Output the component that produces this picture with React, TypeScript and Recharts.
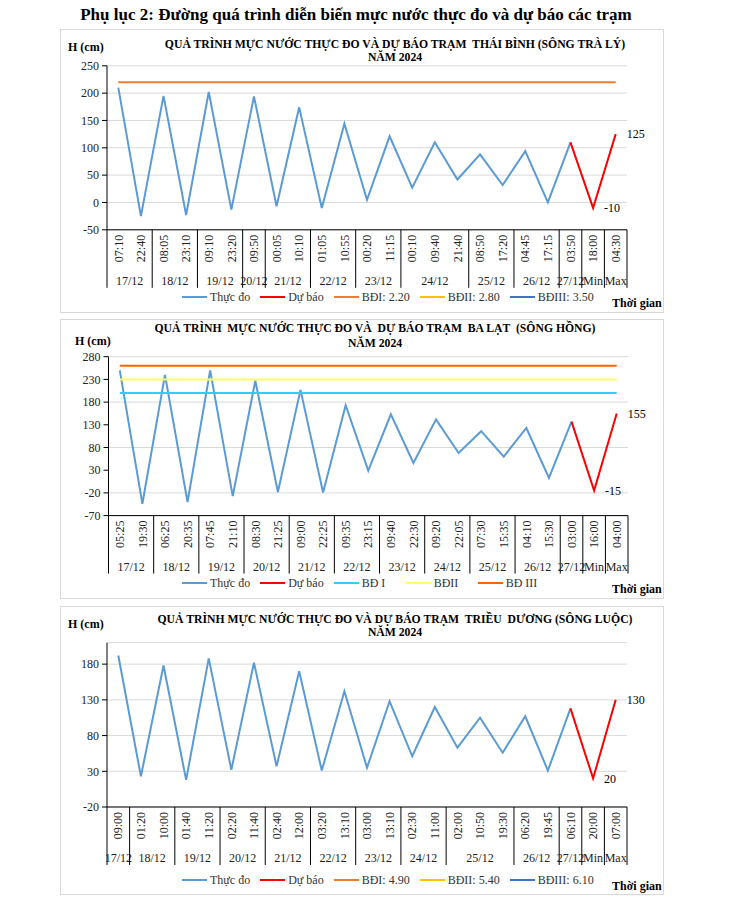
import React from 'react';
import { CartesianGrid, LabelList, Line, LineChart, XAxis, YAxis } from 'recharts';

const FONT = '"Liberation Serif", "Times New Roman", serif';

// Trạm Thái Bình (sông Trà Lý)
const tbTimes = ['07:10', '22:40', '08:05', '23:10', '09:10', '23:20', '09:50', '00:05', '10:10', '01:05', '10:55', '00:20', '11:15', '00:10', '09:40', '21:40', '08:50', '17:20', '04:45', '17:15', '03:50', '18:00', '04:30'];
const tbDates = ['17/12', '18/12', '19/12', '20/12', '21/12', '22/12', '23/12', '24/12', '25/12', '26/12', '27/12', 'Min', 'Max'];
const tbSpans = [2, 2, 2, 1, 2, 2, 2, 3, 2, 2, 1, 1, 1];
const tbMeasured = [210, -25, 195, -23, 202, -13, 194, -7, 174, -10, 144, 5, 121, 27, 110, 42, 88, 32, 94, 0, 110];
const tbForecast = [110, -10, 125];
const tbAlertLabels = ['BĐI: 2.20', 'BĐII: 2.80', 'BĐIII: 3.50'];
const tbAlertLevels = [220, 280, 350];

// Trạm Ba Lạt (sông Hồng)
const blTimes = ['05:25', '19:30', '06:25', '20:35', '07:45', '21:10', '08:30', '21:25', '09:00', '22:25', '09:35', '23:15', '09:40', '22:30', '09:20', '22:05', '07:30', '15:35', '04:10', '15:30', '03:00', '16:00', '04:00'];
const blDates = ['17/12', '18/12', '19/12', '20/12', '21/12', '22/12', '23/12', '24/12', '25/12', '26/12', '27/12', 'Min', 'Max'];
const blSpans = [2, 2, 2, 2, 2, 2, 2, 2, 2, 2, 1, 1, 1];
const blMeasured = [250, -44, 240, -40, 250, -27, 227, -18, 207, -19, 173, 29, 153, 46, 142, 68, 116, 60, 123, 13, 137];
const blForecast = [137, -15, 155];
const blAlertLabels = ['BĐ I', 'BĐII', 'BĐ III'];
const blAlertLevels = [200, 230, 260];

// Trạm Triều Dương (sông Luộc)
const tdTimes = ['09:00', '01:20', '10:00', '01:40', '11:20', '02:20', '11:40', '02:40', '12:00', '03:20', '13:10', '03:00', '13:10', '02:30', '11:00', '02:00', '10:50', '19:30', '06:20', '19:45', '06:10', '20:00', '07:00'];
const tdDates = ['17/12', '18/12', '19/12', '20/12', '21/12', '22/12', '23/12', '24/12', '25/12', '26/12', '27/12', 'Min', 'Max'];
const tdSpans = [1, 2, 2, 2, 2, 2, 2, 2, 3, 2, 1, 1, 1];
const tdMeasured = [192, 23, 178, 18, 188, 32, 182, 37, 170, 31, 142, 35, 128, 51, 120, 63, 105, 56, 107, 31, 118];
const tdForecast = [118, 20, 130];
const tdAlertLabels = ['BĐI: 4.90', 'BĐII: 5.40', 'BĐIII: 6.10'];
const tdAlertLevels = [490, 540, 610];

const MEASURED_COLOR = '#5b9bd5';
const FORECAST_COLOR = '#ff0000';

type Station = {
  frameTop: number;
  frameBottom: number;
  plot: { left: number; right: number; top: number; bottom: number };
  domain: [number, number];
  ticks: number[];
  title: string[];
  titleX: number;
  titleY: number[];
  hcm: { x: number; y: number };
  times: string[];
  dates: string[];
  spans: number[];
  measured: number[];
  forecast: number[];
  alertLabels: string[];
  alertLevels: number[];
  alertColors: string[];
  legendX: number;
  legendY: number;
  legendItemW: number;
};

const buildRows = (s: Station) =>
  s.times.map((time, i) => {
    const fi = i - (s.measured.length - 1);
    const row: any = {
      time,
      measured: i < s.measured.length ? s.measured[i] : null,
      forecast: fi >= 0 ? s.forecast[fi] : null,
      label: fi > 0 ? s.forecast[fi] : null,
    };
    s.alertLevels.forEach((lv, k) => {
      row['bd' + k] = lv;
    });
    return row;
  });

const StationChart = ({ s }: { s: Station }) => {
  const H = s.frameBottom - s.frameTop;
  const n = s.times.length;
  const bw = (s.plot.right - s.plot.left) / n;
  const axisY = s.plot.bottom - s.frameTop;
  const yw = 50;
  const rows = buildRows(s);

  const groupStart: Record<number, { g: number; n: number }> = {};
  let acc = 0;
  s.spans.forEach((c, g) => {
    groupStart[acc] = { g, n: c };
    acc += c;
  });

  const renderTick = (p: any) => {
    const { x, payload } = p;
    const i = payload.index;
    const st = groupStart[i];
    const ty = axisY + 5;
    return (
      <g key={'t' + i}>
        <text
          x={x}
          y={ty}
          dy="0.35em"
          textAnchor="end"
          transform={`rotate(-90 ${x} ${ty})`}
          fontSize={12}
          fontFamily={FONT}
          fill="#222"
        >
          {s.times[i]}
        </text>
        {st && (
          <line x1={x - bw / 2} x2={x - bw / 2} y1={axisY} y2={axisY + 58} stroke="#000" strokeWidth={1} />
        )}
        {st && (
          <text
            x={x - bw / 2 + (st.n * bw) / 2}
            y={axisY + 51}
            dy="0.35em"
            textAnchor="middle"
            fontSize={12}
            fontFamily={FONT}
            fill="#222"
          >
            {s.dates[st.g]}
          </text>
        )}
        {i === n - 1 && (
          <line x1={x + bw / 2} x2={x + bw / 2} y1={axisY} y2={axisY + 58} stroke="#000" strokeWidth={1} />
        )}
      </g>
    );
  };

  const legendItems = [
    { label: 'Thực đo', color: MEASURED_COLOR },
    { label: 'Dự báo', color: FORECAST_COLOR },
    ...s.alertLabels.map((l, k) => ({ label: l, color: s.alertColors[k] })),
  ];

  return (
    <>
      <div
        style={{
          position: 'absolute',
          left: 60,
          top: s.frameTop,
          width: 604,
          height: H,
          border: '1px solid #d9d9d9',
          boxSizing: 'border-box',
        }}
      />
      <div style={{ position: 'absolute', left: 0, top: s.frameTop }}>
        <LineChart
          width={730}
          height={H}
          data={rows}
          margin={{ top: s.plot.top - s.frameTop, right: 730 - s.plot.right, bottom: 0, left: s.plot.left - yw }}
        >
          <CartesianGrid vertical={false} stroke="#d9d9d9" />
          <XAxis
            dataKey="time"
            interval={0}
            height={H - axisY}
            padding={{ left: bw / 2, right: bw / 2 }}
            axisLine={{ stroke: '#000' }}
            tickLine={false}
            tick={renderTick}
          />
          <YAxis
            domain={s.domain}
            ticks={s.ticks}
            allowDataOverflow
            width={yw}
            tickSize={5}
            tickMargin={3}
            axisLine={{ stroke: '#000' }}
            tickLine={{ stroke: '#000' }}
            tick={{ fontSize: 12, fontFamily: FONT, fill: '#222' }}
          />
          <Line
            dataKey="measured"
            stroke={MEASURED_COLOR}
            strokeWidth={2}
            dot={false}
            isAnimationActive={false}
          />
          <Line
            dataKey="forecast"
            stroke={FORECAST_COLOR}
            strokeWidth={2}
            dot={false}
            isAnimationActive={false}
          >
            <LabelList dataKey="label" position="right" offset={11} fontSize={12} fontFamily={FONT} fill="#000" />
          </Line>
          {s.alertLevels.map((lv, k) =>
            lv >= s.domain[0] && lv <= s.domain[1] ? (
              <Line
                key={'bd' + k}
                dataKey={'bd' + k}
                stroke={s.alertColors[k]}
                strokeWidth={2}
                dot={false}
                isAnimationActive={false}
              />
            ) : null
          )}
        </LineChart>
      </div>
      {s.title.map((t, k) => (
        <div
          key={'title' + k}
          style={{
            position: 'absolute',
            left: s.titleX,
            top: s.titleY[k],
            transform: 'translate(-50%, -50%)',
            fontFamily: FONT,
            fontWeight: 'bold',
            fontSize: 11.7,
            whiteSpace: 'pre',
            lineHeight: 1,
          }}
        >
          {t}
        </div>
      ))}
      <div
        style={{
          position: 'absolute',
          left: s.hcm.x,
          top: s.hcm.y,
          transform: 'translateY(-50%)',
          fontFamily: FONT,
          fontWeight: 'bold',
          fontSize: 12,
          lineHeight: 1,
          whiteSpace: 'pre',
        }}
      >
        H (cm)
      </div>
      <div
        style={{
          position: 'absolute',
          left: s.legendX,
          top: s.legendY,
          transform: 'translateY(-50%)',
          display: 'flex',
          alignItems: 'center',
          fontFamily: FONT,
          fontSize: 12,
          color: '#333',
          whiteSpace: 'pre',
          lineHeight: 1,
        }}
      >
        {legendItems.map((it) => (
          <span
            key={it.label}
            style={{ display: 'flex', alignItems: 'center', marginRight: 10, minWidth: s.legendItemW }}
          >
            <span style={{ display: 'inline-block', width: 25, height: 2, background: it.color, marginRight: 3 }} />
            {it.label}
          </span>
        ))}
      </div>
      <div
        style={{
          position: 'absolute',
          left: 612,
          top: s.legendY + 6,
          transform: 'translateY(-50%)',
          fontFamily: FONT,
          fontWeight: 'bold',
          fontSize: 12,
          lineHeight: 1,
          whiteSpace: 'pre',
        }}
      >
        Thời gian
      </div>
    </>
  );
};

const stations: Station[] = [
  {
    frameTop: 29,
    frameBottom: 313,
    plot: { left: 107, right: 627, top: 65.8, bottom: 229.8 },
    domain: [-50, 250],
    ticks: [-50, 0, 50, 100, 150, 200, 250],
    title: ['QUẢ TRÌNH MỰC NƯỚC THỰC ĐO VÀ DỰ BÁO TRẠM  THÁI BÌNH (SÔNG TRÀ LÝ)', 'NĂM 2024'],
    titleX: 395,
    titleY: [45, 58],
    hcm: { x: 68, y: 47 },
    times: tbTimes,
    dates: tbDates,
    spans: tbSpans,
    measured: tbMeasured,
    forecast: tbForecast,
    alertLabels: tbAlertLabels,
    alertLevels: tbAlertLevels,
    alertColors: ['#ed7d31', '#ffc000', '#4472c4'],
    legendX: 182,
    legendY: 297,
    legendItemW: 0,
  },
  {
    frameTop: 319,
    frameBottom: 599,
    plot: { left: 108.5, right: 628, top: 356.7, bottom: 515.6 },
    domain: [-70, 280],
    ticks: [-70, -20, 30, 80, 130, 180, 230, 280],
    title: ['QUẢ TRÌNH  MỰC NƯỚC THỰC ĐO VÀ  DỰ BÁO TRẠM  BA LẠT  (SÔNG HỒNG)', 'NĂM 2024'],
    titleX: 375,
    titleY: [329, 344],
    hcm: { x: 75, y: 341 },
    times: blTimes,
    dates: blDates,
    spans: blSpans,
    measured: blMeasured,
    forecast: blForecast,
    alertLabels: blAlertLabels,
    alertLevels: blAlertLevels,
    alertColors: ['#33ccff', '#ffff66', '#ff6600'],
    legendX: 182,
    legendY: 583,
    legendItemW: 62,
  },
  {
    frameTop: 606,
    frameBottom: 895,
    plot: { left: 107, right: 627, top: 642.7, bottom: 807 },
    domain: [-20, 210],
    ticks: [-20, 30, 80, 130, 180],
    title: ['QUẢ TRÌNH MỰC NƯỚC THỰC ĐO VÀ DỰ BÁO TRẠM  TRIỀU  DƯƠNG (SÔNG LUỘC)', 'NĂM 2024'],
    titleX: 395,
    titleY: [620, 633],
    hcm: { x: 68, y: 624 },
    times: tdTimes,
    dates: tdDates,
    spans: tdSpans,
    measured: tdMeasured,
    forecast: tdForecast,
    alertLabels: tdAlertLabels,
    alertLevels: tdAlertLevels,
    alertColors: ['#ed7d31', '#ffc000', '#4472c4'],
    legendX: 182,
    legendY: 880,
    legendItemW: 0,
  },
];

const App = () => {
  return (
    <div style={{ position: 'absolute', left: 0, top: 0, width: 730, height: 903, background: '#fff' }}>
      <div
        style={{
          position: 'absolute',
          left: 356,
          top: 14,
          transform: 'translate(-50%, -50%)',
          fontFamily: FONT,
          fontWeight: 'bold',
          fontSize: 17,
          lineHeight: 1,
          whiteSpace: 'pre',
        }}
      >
        Phụ lục 2: Đường quá trình diễn biến mực nước thực đo và dự báo các trạm
      </div>
      {stations.map((s, k) => (
        <StationChart key={k} s={s} />
      ))}
    </div>
  );
};

export default App;
